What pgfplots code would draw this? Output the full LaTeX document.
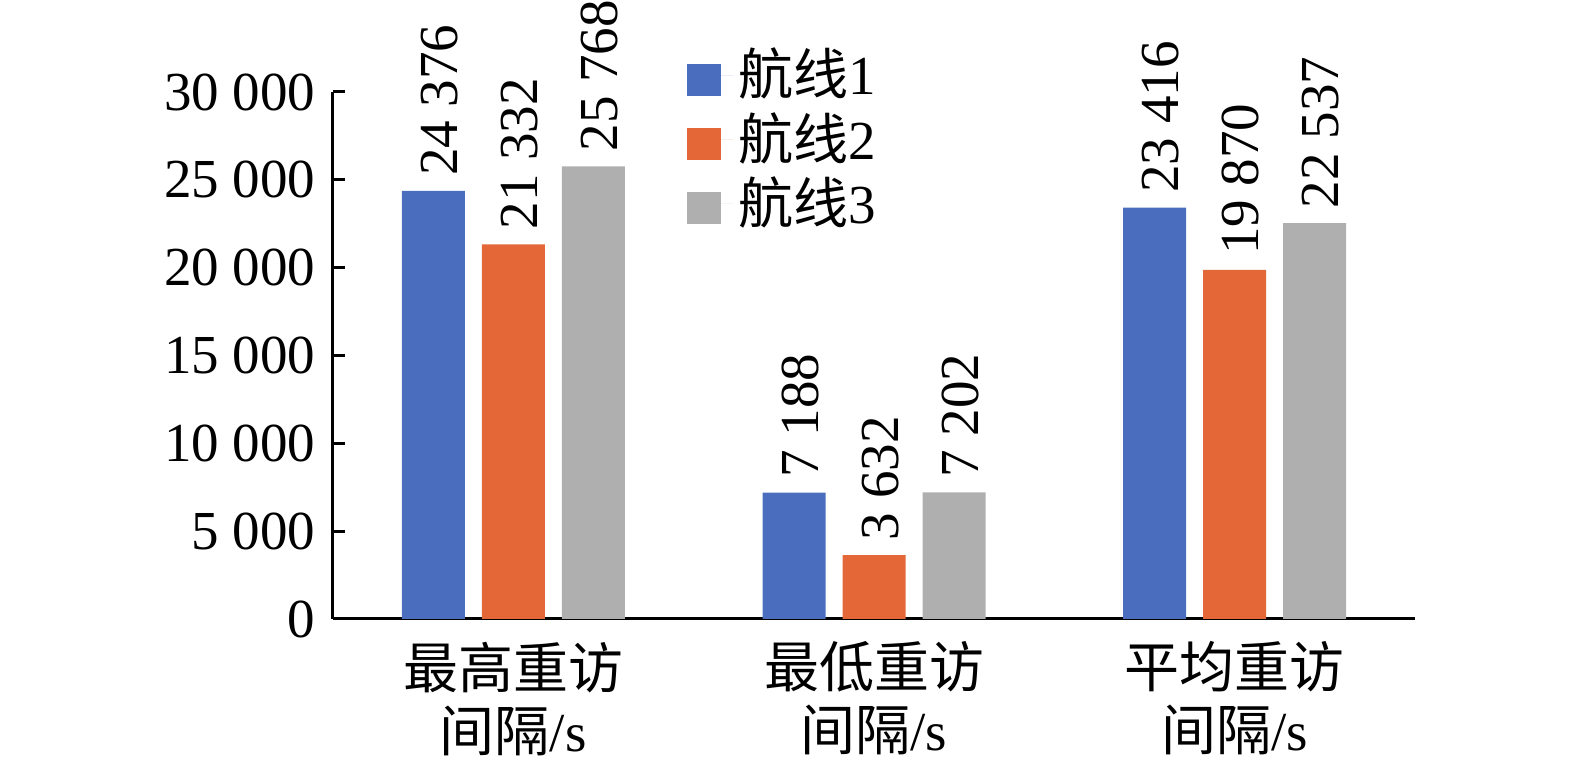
\documentclass[border=0pt]{standalone}
\usepackage{pgfplots}
\pgfplotsset{compat=1.18}
\usepackage{fontspec}
\setmainfont{Liberation Serif}
\newfontfamily\cjk{Noto Sans CJK SC}
\definecolor{cb}{RGB}{74,110,189}
\definecolor{co}{RGB}{228,104,55}
\definecolor{cg}{RGB}{175,175,175}
\begin{document}
\begin{tikzpicture}
\begin{axis}[
  scale only axis, width=216.4pt, height=105.4pt,
  xmin=-0.5, xmax=2.5, ymin=0, ymax=30000,
  ybar=3.4pt, bar width=12.6pt,
  axis x line*=bottom, axis y line*=left,
  axis line style={line width=0.6pt, black},
  xtick={0,1,2},
  xticklabels={{{\cjk 最高重访}\\{\cjk 间隔}/s},{{\cjk 最低重访}\\{\cjk 间隔}/s},{{\cjk 平均重访}\\{\cjk 间隔}/s}},
  xticklabel style={align=center, font=\fontsize{11}{12.6}\selectfont, yshift=-1pt},
  major x tick style={draw=none},
  ytick={0,5000,10000,15000,20000,25000,30000},
  scaled y ticks=false,
  tick align=inside, major tick length=2.4pt,
  major y tick style={line width=0.6pt, black},
  yticklabel style={font=\fontsize{11}{13}\selectfont},
  /pgf/number format/.cd, fixed, precision=0, 1000 sep={\ }, assume math mode=true,
  /pgfplots/.cd,
  nodes near coords,
  every node near coord/.append style={rotate=90, anchor=west, black,
     font=\fontsize{11}{13}\selectfont, inner xsep=2.8pt, inner ysep=0pt, text height=9.7pt, text depth=0pt},
  legend image code/.code={\fill[#1] (0pt,-4.1pt) rectangle (6.8pt,2.3pt); \path (0pt,0pt) -- (9.2pt,0pt);},
  legend style={at={(rel axis cs:0.3265,1.095)}, anchor=north west, draw=none, fill=none,
     inner sep=0pt, row sep=0pt, font=\fontsize{11}{13}\selectfont,
     nodes={inner sep=1pt}},
  legend cell align=left,
]
\addplot[draw=none, fill=cb] coordinates {(0,24376) (1,7188) (2,23416)};
\addplot[draw=none, fill=co] coordinates {(0,21332) (1,3632) (2,19870)};
\addplot[draw=none, fill=cg] coordinates {(0,25768) (1,7202) (2,22537)};
\addlegendentry{{\cjk 航线}1}
\addlegendentry{{\cjk 航线}2}
\addlegendentry{{\cjk 航线}3}
\end{axis}
\pgfresetboundingbox
\path[use as bounding box] (-66.6pt,-30.4pt) rectangle (248.4pt,123.8pt);
\end{tikzpicture}
\end{document}
